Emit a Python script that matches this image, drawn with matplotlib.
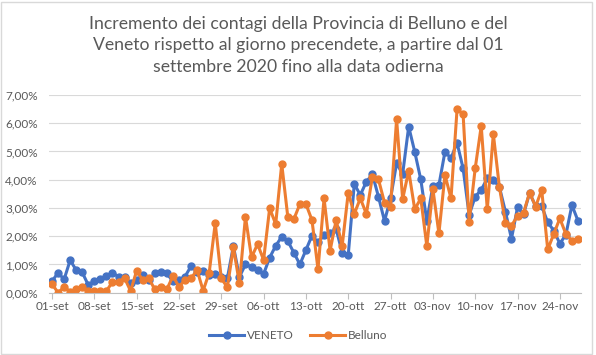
import matplotlib
matplotlib.use("Agg")
import matplotlib.pyplot as plt
from matplotlib.patches import Rectangle
from matplotlib.ticker import FuncFormatter, FixedLocator
import numpy as np

# Daily increments (%) from 01-set-2020 to 27-nov-2020
veneto = [0.40, 0.71, 0.47, 1.15, 0.80, 0.72, 0.27, 0.42, 0.47, 0.58,
          0.70, 0.57, 0.57, 0.35, 0.45, 0.63, 0.45, 0.68, 0.74, 0.68,
          0.40, 0.45, 0.57, 0.94, 0.74, 0.78, 0.63, 0.66, 0.55, 0.51,
          1.65, 0.56, 1.00, 0.92, 0.80, 0.66, 1.24, 1.66, 1.98, 1.83,
          1.42, 1.00, 1.51, 2.02, 1.78, 2.04, 2.10, 2.25, 1.42, 1.33,
          3.85, 3.46, 3.93, 4.19, 3.40, 2.54, 3.34, 4.58, 4.20, 5.88,
          4.99, 4.01, 2.54, 3.78, 3.81, 4.99, 4.76, 5.31, 4.40, 2.75,
          3.40, 3.64, 4.05, 3.99, 3.75, 2.87, 1.91, 3.02, 2.78, 3.53,
          3.06, 3.07, 2.49, 2.20, 1.74, 2.05, 3.10, 2.55]

belluno = [0.31, 0.00, 0.20, 0.04, 0.12, 0.19, 0.07, 0.07, 0.06, 0.06,
           0.38, 0.38, 0.52, 0.06, 0.78, 0.45, 0.51, 0.12, 0.19, 0.12,
           0.59, 0.21, 0.45, 0.51, 0.80, 0.07, 0.71, 2.46, 0.51, 0.19,
           1.61, 0.33, 2.69, 1.25, 1.72, 1.16, 2.99, 2.43, 4.56, 2.69,
           2.60, 3.14, 3.14, 2.57, 0.83, 3.34, 1.49, 2.57, 1.66, 3.54,
           2.79, 3.34, 2.79, 4.11, 4.01, 3.19, 3.05, 6.14, 3.31, 4.32,
           2.95, 3.34, 1.65, 3.67, 2.10, 4.17, 3.34, 6.49, 6.32, 2.51,
           4.40, 5.90, 2.95, 5.62, 3.75, 2.48, 2.37, 2.72, 2.83, 3.54,
           3.05, 3.64, 1.53, 2.08, 2.63, 2.08, 1.84, 1.91]

tick_labels = ["01-set", "08-set", "15-set", "22-set", "29-set", "06-ott",
               "13-ott", "20-ott", "27-ott", "03-nov", "10-nov", "17-nov",
               "24-nov"]

title = ("Incremento dei contagi della Provincia di Belluno e del\n"
         "Veneto rispetto al giorno precendete, a partire dal 01\n"
         "settembre 2020 fino alla data odierna")

plt.rcParams['font.family'] = ['Lato', 'DejaVu Sans']
TXT = '#595959'

fig = plt.figure(figsize=(5.96, 3.55), dpi=100)
ax = fig.add_axes([0.0822, 0.1755, 0.8926, 0.5569])

days = np.arange(len(veneto))
ax.plot(days, veneto, color='#4472C4', lw=2.2, marker='o', ms=5,
        label='VENETO', solid_joinstyle='round')
ax.plot(days, belluno, color='#ED7D31', lw=2.2, marker='o', ms=5,
        label='Belluno', solid_joinstyle='round')

ax.set_xlim(-0.5, len(veneto) - 0.5)
ax.set_ylim(0, 7)
ax.set_yticks(np.arange(0, 8, 1))
ax.yaxis.set_major_formatter(FuncFormatter(lambda v, p: f"{v:.2f}%".replace('.', ',')))
tick_pos = np.arange(0, 7 * len(tick_labels), 7)
ax.xaxis.set_major_locator(FixedLocator(tick_pos))
ax.set_xticklabels(tick_labels)

ax.grid(axis='y', color='#D9D9D9', lw=0.8)
ax.set_axisbelow(True)
for s in ['top', 'right', 'left']:
    ax.spines[s].set_visible(False)
ax.spines['bottom'].set_color('#BFBFBF')
ax.spines['bottom'].set_linewidth(0.8)
ax.tick_params(axis='y', length=0, labelsize=8.5, labelcolor=TXT, pad=8)
ax.tick_params(axis='x', length=4, color='#BFBFBF', labelsize=8.5,
               labelcolor=TXT, pad=2)

fig.text(0.5, 0.955, title, ha='center', va='top', fontsize=12.7,
         color=TXT, linespacing=1.42)

leg = fig.legend(loc='center', bbox_to_anchor=(0.5, 0.055), ncol=2,
                 frameon=False, fontsize=8.5, handlelength=3.0,
                 columnspacing=1.4, handletextpad=0.2)
for t in leg.get_texts():
    t.set_color(TXT)

fig.patches.append(Rectangle((0.002, 0.004), 0.992, 0.99, transform=fig.transFigure,
                             fill=False, edgecolor='#D9D9D9', lw=1))

fig.savefig('out.png', dpi=100)
